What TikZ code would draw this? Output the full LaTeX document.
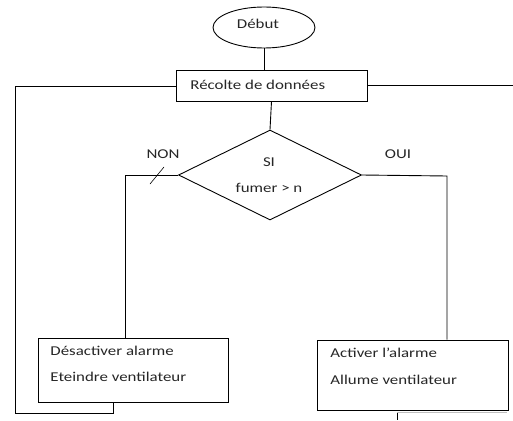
\documentclass[tikz,border=0pt]{standalone}
\usepackage{fontspec}
\setmainfont{Carlito}[FakeStretch=1.25]
\usetikzlibrary{shapes.geometric}
\begin{document}
\begin{tikzpicture}[x=1pt,y=-1pt,
  line width=0.9pt,
  every node/.style={font=\fontsize{13.5}{16}\selectfont, text=black!85},
  startnode/.style={draw, ellipse, minimum width=102pt, minimum height=41pt, inner sep=0pt},
  procbox/.style={draw, rectangle, inner sep=0pt},
  decnode/.style={draw, diamond, aspect=2, inner sep=0pt, minimum width=183pt, minimum height=90pt, align=center},
  boxtext/.style={anchor=north west, align=left, inner sep=0pt},
  lbl/.style={inner sep=0pt}
]
\useasboundingbox (0,0) rectangle (513,420);

\node[startnode] (debut) at (264,27.5) {};
\node[lbl] (debutT) at (258,24) {Début};

\node[procbox, minimum width=191pt, minimum height=31pt] (recolte) at (271.5,85.5) {};
\node[lbl, anchor=west] (recolteT) at (190,85) {Récolte de données};

\node[decnode] (dec) at (270,175) {};
\node[lbl] (siT) at (269,162) {SI};
\node[lbl] (fumT) at (269,188) {fumer > n};

\node[lbl] (non) at (163,154) {NON};
\node[lbl] (oui) at (398,154) {OUI};

\node[procbox, minimum width=190pt, minimum height=64pt] (desact) at (133,370) {};
\node[lbl, anchor=west] (desT1) at (50,351) {Désactiver alarme};
\node[lbl, anchor=west] (desT2) at (50,377) {Eteindre ventilateur};

\node[procbox, minimum width=191pt, minimum height=70pt] (activ) at (412.5,375) {};
\node[lbl, anchor=west] (actT1) at (330,353) {Activer l’alarme};
\node[lbl, anchor=west] (actT2) at (330,380) {Allume ventilateur};

% connectors
\draw (debut.south) -- (debut.south |- recolte.north);
\draw (recolte.south) -- (dec.north);

\coordinate (lt) at (15,86);
\coordinate (lb) at (15,413);
\coordinate (lr) at (113,413);
\draw (recolte.west |- lt) -- (lt) -- (lb) -- (lr) -- (lr |- desact.south);

\coordinate (re) at (513,85);
\draw (recolte.east |- re) -- (re);

\coordinate (nl) at (125,175);
\draw (dec.west) -- (nl) -- (nl |- desact.north);
\coordinate (tk1) at (150,184);
\coordinate (tk2) at (164,167);
\draw[line width=0.6pt] (tk1) -- (tk2);

\coordinate (or) at (447,176);
\draw (dec.east) -- (or) -- (or |- activ.north);

\coordinate (bt) at (397,412);
\coordinate (bb) at (397,420);
\draw[line width=0.6pt] (bt) -- (bb);
\draw[line width=0.5pt, black!25] (bt) -- (507,412);
\end{tikzpicture}
\end{document}
